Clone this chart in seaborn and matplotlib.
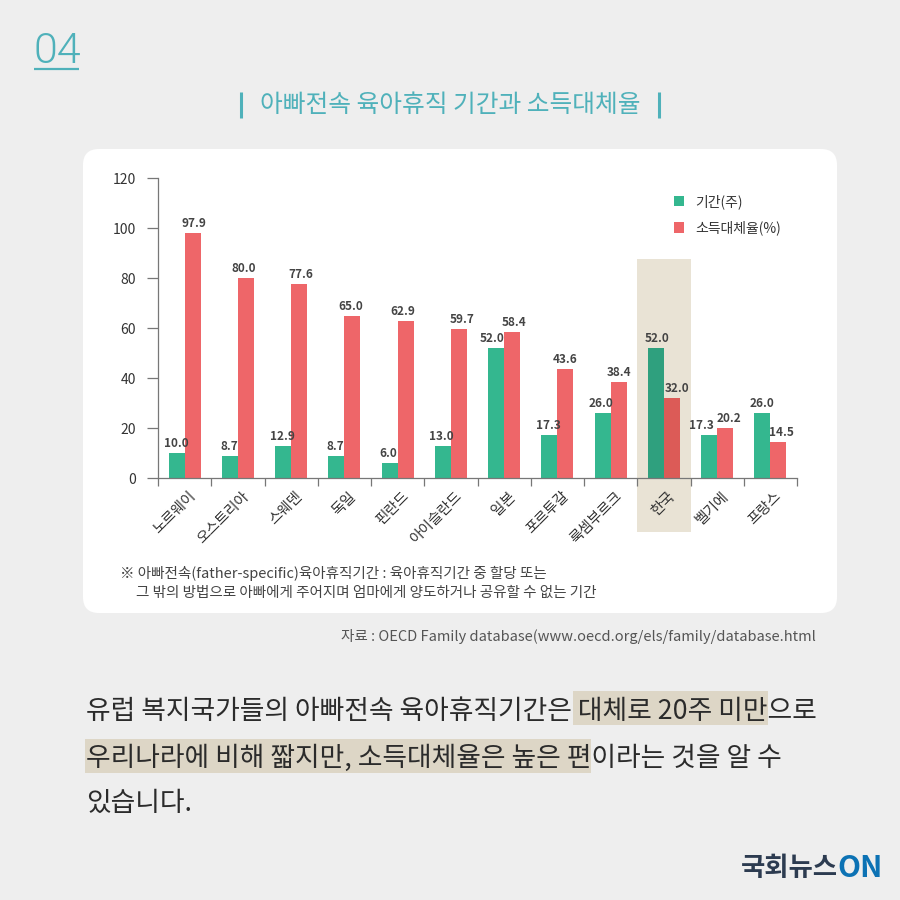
import pandas as pd
import matplotlib.pyplot as plt
from matplotlib.patches import FancyBboxPatch, Rectangle
from matplotlib.transforms import ScaledTranslation
import seaborn as sns

# Data
countries = ['노르웨이', '오스트리아', '스웨덴', '독일', '핀란드', '아이슬란드',
             '일본', '포르투갈', '룩셈부르크', '한국', '벨기에', '프랑스']
weeks = [10.0, 8.7, 12.9, 8.7, 6.0, 13.0, 52.0, 17.3, 26.0, 52.0, 17.3, 26.0]
replacement = [97.9, 80.0, 77.6, 65.0, 62.9, 59.7, 58.4, 43.6, 38.4, 32.0, 20.2, 14.5]
series_names = ['기간(주)', '소득대체율(%)']
y_ticks = [0, 20, 40, 60, 80, 100, 120]

# Hand placement of the value labels, in pixels sideways from the bar centre
weeks_nudge = [0, -1, -1, -1, -1, -2, -4, -1, -2, 1, -8, 0]
replacement_nudge = [1, -2, 2, -2, -3, 3, 2, 0, 0, 5, 4, 3]

# Colours
BG = '#EEEEEE'
TEAL = '#4FB1BA'
GREEN = '#34B78F'
RED = '#EE6669'
GREEN_DARK = '#2FA07E'
RED_DARK = '#DC5B57'
BAND = '#E9E3D5'
MARK = '#DDD6C6'
TEXT = '#333333'

sns.set_theme(style="white")
plt.rcParams['font.family'] = ['Noto Sans CJK KR', 'DejaVu Sans']

df = pd.DataFrame({'country': countries, series_names[0]: weeks, series_names[1]: replacement})
long_df = df.melt(id_vars='country', var_name='series', value_name='value')

fig = plt.figure(figsize=(9, 9), dpi=100, facecolor=BG)

# Full-figure layer in pixel coordinates for panel, highlights and text
page = fig.add_axes([0, 0, 1, 1], zorder=0)
page.set_xlim(0, 900)
page.set_ylim(900, 0)
page.axis('off')

page.add_patch(FancyBboxPatch((83, 149), 754, 464, boxstyle='round,pad=0,rounding_size=16',
                              fc='white', ec='none'))
page.add_patch(Rectangle((637, 259), 54, 273, fc=BAND, ec='none'))
page.add_patch(Rectangle((573, 691), 195, 34, fc=MARK, ec='none'))
page.add_patch(Rectangle((85, 739), 506, 34, fc=MARK, ec='none'))

# Heading
page.text(33, 63, '04', color=TEAL, fontsize=31, family=['Roboto', 'DejaVu Sans'], fontweight=300,
          ha='left', va='baseline')
page.plot([34, 79], [68.5, 68.5], color=TEAL, lw=1.6, solid_capstyle='butt')
page.text(450, 105, '아빠전속 육아휴직 기간과 소득대체율', color=TEAL, fontsize=17.8, ha='center', va='center')
page.plot([240.5, 240.5], [92, 118], color=TEAL, lw=2.2, solid_capstyle='butt')
page.plot([658.5, 658.5], [92, 118], color=TEAL, lw=2.2, solid_capstyle='butt')

# Chart
ax = fig.add_axes([158 / 900, 1 - 478 / 900, 639 / 900, 300 / 900], zorder=1)
ax.patch.set_alpha(0)
sns.barplot(data=long_df, x='country', y='value', hue='series', order=countries,
            palette=[GREEN, RED], width=0.6, gap=0, saturation=1, linewidth=0, ax=ax)

ax.set_xlim(-0.5, len(countries) - 0.5)
ax.set_ylim(0, 120)
ax.set_xlabel('')
ax.set_ylabel('')
ax.set_yticks(y_ticks)
ax.set_yticklabels([str(t) for t in y_ticks], fontsize=10, color=TEXT)
ax.tick_params(axis='y', length=8, width=0.9, color='#777777', pad=8, left=True)
ax.set_xticks(range(len(countries)))
ax.set_xticklabels(countries, rotation=45, ha='right', rotation_mode='anchor', fontsize=10.5, color=TEXT)
ax.tick_params(axis='x', which='major', length=0, pad=8)
ax.set_xticks([i - 0.5 for i in range(len(countries) + 1)], minor=True)
ax.tick_params(axis='x', which='minor', length=6, width=0.9, color='#777777', bottom=True)
# tick labels sit a little right of the group centre
shift = ScaledTranslation(4 / 100, 0, fig.dpi_scale_trans)
for tick_label in ax.get_xticklabels():
    tick_label.set_transform(tick_label.get_transform() + shift)
sns.despine(ax=ax)
for side in ['left', 'bottom']:
    ax.spines[side].set_color('#777777')
    ax.spines[side].set_linewidth(0.9)

for container, nudges in zip(ax.containers[:2], [weeks_nudge, replacement_nudge]):
    labels = ax.bar_label(container, fmt='%.1f', fontsize=8.5, fontweight='bold', color='#444444', padding=2)
    for label, dx in zip(labels, nudges):
        x_off, y_off = label.xyann
        label.xyann = (x_off + dx * 0.72, y_off)

# Korea bars sit under the tinted band
korea = countries.index('한국')
ax.containers[0][korea].set_facecolor(GREEN_DARK)
ax.containers[1][korea].set_facecolor(RED_DARK)

ax.legend(loc='upper left', bbox_to_anchor=(674 / 900, 1 - 194 / 900), bbox_transform=fig.transFigure,
          frameon=False, fontsize=10, handlelength=0.75, handleheight=0.75, handletextpad=0.8,
          labelspacing=0.85, labelcolor=TEXT, borderpad=0, borderaxespad=0)

# Footnotes
page.text(120, 573, '※ 아빠전속(father-specific)육아휴직기간 : 육아휴직기간 중 할당 또는',
          fontsize=10.5, color='#444444', va='center')
page.text(136, 593, '그 밖의 방법으로 아빠에게 주어지며 엄마에게 양도하거나 공유할 수 없는 기간',
          fontsize=10.5, color='#444444', va='center')
page.text(816, 637, '자료 : OECD Family database(www.oecd.org/els/family/database.html',
          fontsize=10.5, color='#555555', ha='right', va='center')

# Body text
body_lines = ['유럽 복지국가들의 아빠전속 육아휴직기간은 대체로 20주 미만으로',
              '우리나라에 비해 짧지만, 소득대체율은 높은 편이라는 것을 알 수',
              '있습니다.']
for line, y in zip(body_lines, [719, 766, 811]):
    page.text(86, y, line, fontsize=19.3, color='#2B2B2B', va='baseline')

# Logo
page.text(838, 876, '국회뉴스', fontsize=19, fontweight='bold', color='#2C3B50', ha='right', va='baseline')
page.text(883, 877, 'ON', fontsize=21.5, fontweight='bold', color='#0C72B4', ha='right', va='baseline')

fig.savefig('out.png', dpi=100, facecolor=BG)
